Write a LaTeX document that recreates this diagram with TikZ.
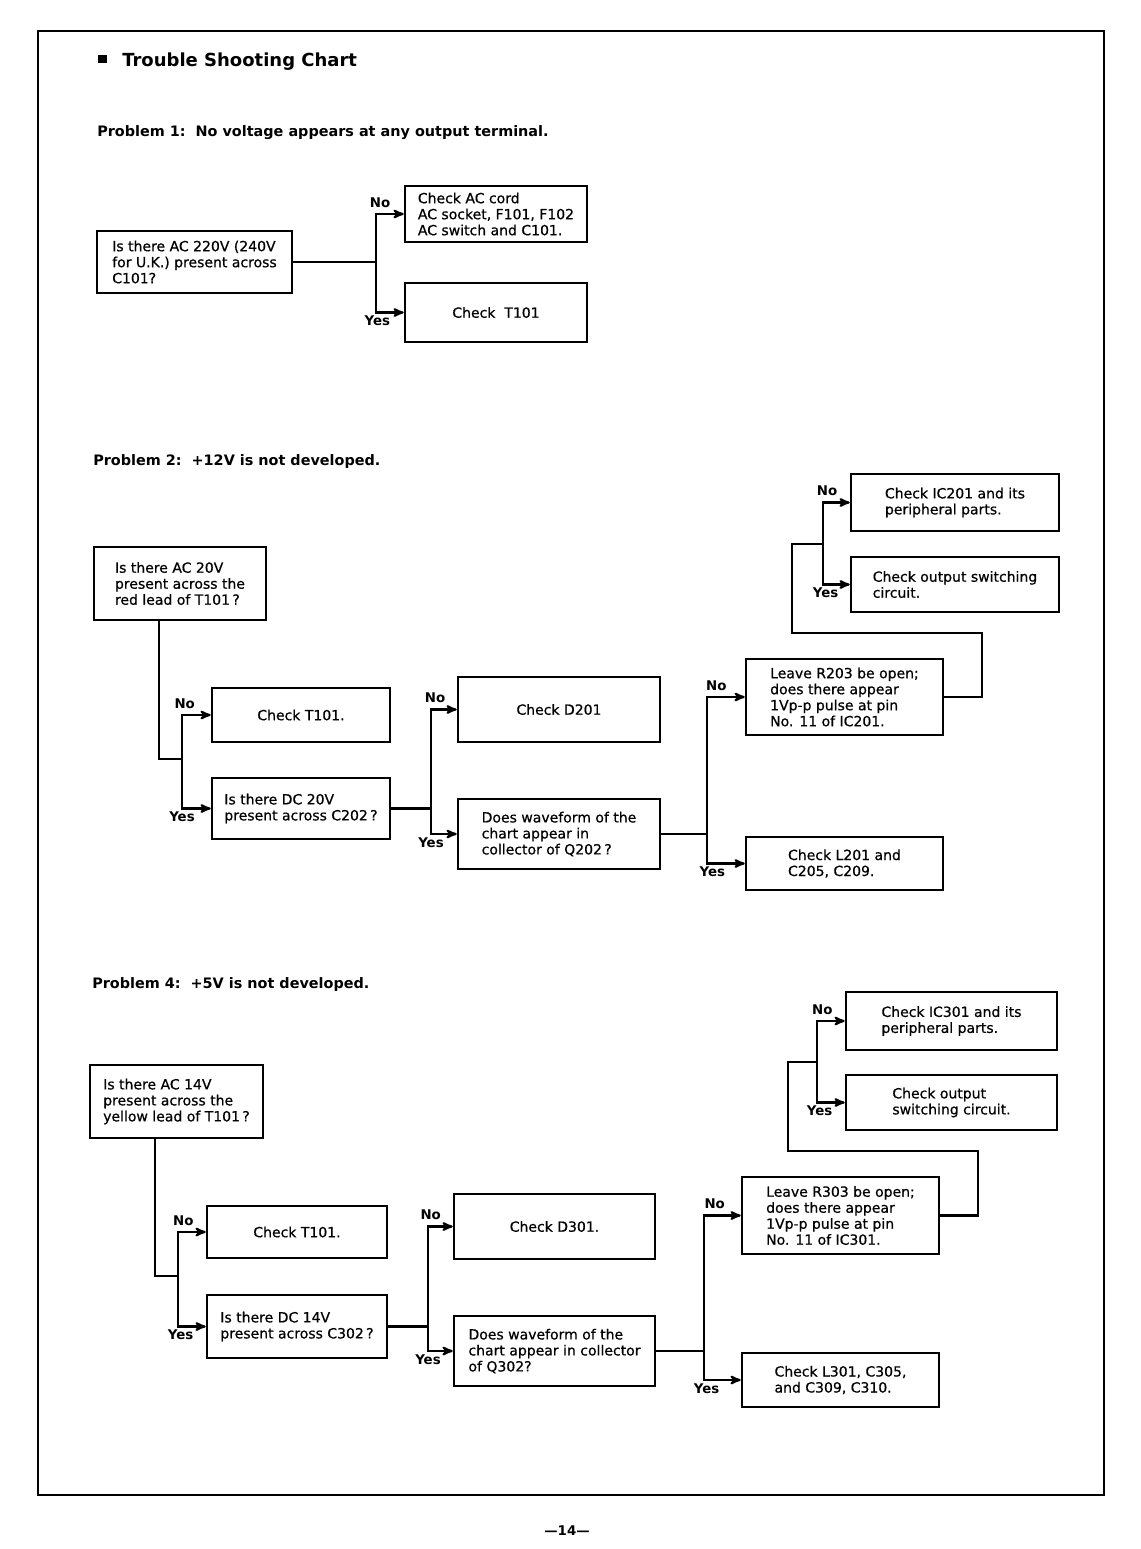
\documentclass[tikz,border=0pt]{standalone}
\usepackage{fontspec}
\setmainfont{DejaVu Sans}
\newfontfamily\boxfont{DejaVu Sans}[FakeBold=0.6]
\usetikzlibrary{arrows,positioning}
\tikzstyle{box}=[rectangle,draw=black,line width=1.9pt,align=left,inner sep=2pt,
                 font=\boxfont\fontsize{10.5}{12}\selectfont]
\tikzstyle{lab}=[font=\bfseries\fontsize{10}{11}\selectfont,inner sep=1pt]
\tikzstyle{head}=[anchor=base west,inner sep=0pt,font=\bfseries\fontsize{10.8}{13}\selectfont]
\tikzstyle{line}=[black,line width=1.6pt]
\tikzstyle{arrow}=[->,black,line width=1.6pt]

\begin{document}
\begin{tikzpicture}[x=0.75pt,y=-0.75pt,>=stealth']
	\useasboundingbox (0,0) rectangle (1140,1549);
	\draw[line width=1.5pt] (38,31) rectangle (1104,1495);

	% headings
	\node[fill=black,minimum size=6.5pt,inner sep=0pt] (bul) at (102.5,59) {};
	\node[head,font=\bfseries\fontsize{13.5}{15}\selectfont] (title) at (122,66) {Trouble Shooting Chart};
	\node[head] (p1) at (97,136) {Problem 1:\ \ No voltage appears at any output terminal.};
	\node[head] (p2) at (93,465) {Problem 2:\ \ +12V is not developed.};
	\node[head] (p4) at (92,988) {Problem 4:\ \ +5V is not developed.};
	\node[inner sep=0pt,anchor=base,font=\bfseries\fontsize{10}{11}\selectfont] (page) at (567,1535) {—14—};

	% problem 1
	\node[box,minimum width=146.25pt,minimum height=46.5pt] (q1) at (194.5,262) {Is there AC 220V (240V\\for U.K.) present across\\C101?};
	\node[box,minimum width=136.5pt,minimum height=42pt] (no1) at (496,214) {Check AC cord\\AC socket, F101, F102\\AC switch and C101.};
	\node[box,minimum width=136.5pt,minimum height=44.25pt] (yes1) at (496,312.5) {Check~~T101};
	\coordinate (j1) at (376,262);
	\draw[line] (q1.east) -- (j1);
	\draw[arrow] (j1) |- node[lab,above=3pt,xshift=3pt] (n1) {No} (no1.west);
	\draw[arrow] (j1) |- node[lab,below=1pt,xshift=1pt] (y1) {Yes} (yes1.west);

	% problem 2
	\node[box,minimum width=129pt,minimum height=54.75pt] (q2) at (180,583.5) {Is there AC 20V\\present across the\\red lead of T101\,?};
	\node[box,minimum width=133.5pt,minimum height=40.5pt] (t2) at (301,715) {Check T101.};
	\node[box,minimum width=133.5pt,minimum height=45.75pt] (dc2) at (301,808.5) {Is there DC 20V\\present across C202\,?};
	\node[box,minimum width=151.5pt,minimum height=48.75pt] (d2) at (559,709.5) {Check D201};
	\node[box,minimum width=151.5pt,minimum height=52.5pt] (wf2) at (559,834) {Does waveform of the\\chart appear in\\collector of Q202\,?};
	\node[box,minimum width=147.75pt,minimum height=57pt] (lv2) at (844.5,697) {Leave R203 be open;\\does there appear\\1Vp-p pulse at pin\\No. 11 of IC201.};
	\node[box,minimum width=147.75pt,minimum height=39.75pt] (l2) at (844.5,863.5) {Check L201 and\\C205, C209.};
	\node[box,minimum width=156pt,minimum height=42.75pt] (ic2) at (955,502.5) {Check IC201 and its\\peripheral parts.};
	\node[box,minimum width=156pt,minimum height=41.25pt] (os2) at (955,584.5) {Check output switching\\circuit.};
	\coordinate (j2a) at (159,759);
	\coordinate (j2) at (182,759);
	\coordinate (j3) at (431,808.5);
	\coordinate (j4) at (707,834);
	\coordinate (j5) at (823,544);
	\draw[line] (q2.south -| j2a) -- (j2a) -- (j2);
	\draw[arrow] (j2) |- node[lab,above=3pt,xshift=2pt] (n2a) {No} (t2.west);
	\draw[arrow] (j2) |- node[lab,below=1pt] (y2a) {Yes} (dc2.west);
	\draw[line] (dc2.east) -- (j3);
	\draw[arrow] (j3) |- node[lab,above=3pt,xshift=3pt] (n2b) {No} (d2.west);
	\draw[arrow] (j3) |- node[lab,below=1pt] (y2b) {Yes} (wf2.west);
	\draw[line] (wf2.east) -- (j4);
	\draw[arrow] (j4) |- node[lab,above=3pt,xshift=7pt] (n2c) {No} (lv2.west);
	\draw[arrow] (j4) |- node[lab,below=1pt,xshift=4pt] (y2c) {Yes} (l2.west);
	\draw[line] (lv2.east) -| (982,633) -| (792,544) -- (j5);
	\draw[arrow] (j5) |- node[lab,above=3pt,xshift=3pt] (n2d) {No} (ic2.west);
	\draw[arrow] (j5) |- node[lab,below=1pt,xshift=2pt] (y2d) {Yes} (os2.west);

	% problem 4
	\node[box,minimum width=129.75pt,minimum height=54.75pt] (q4) at (176.5,1101.5) {Is there AC 14V\\present across the\\yellow lead of T101\,?};
	\node[box,minimum width=135pt,minimum height=39pt] (t4) at (297,1232) {Check T101.};
	\node[box,minimum width=135pt,minimum height=47.25pt] (dc4) at (297,1326.5) {Is there DC 14V\\present across C302\,?};
	\node[box,minimum width=150.75pt,minimum height=48.75pt] (d4) at (554.5,1226.5) {Check D301.};
	\node[box,minimum width=150.75pt,minimum height=52.5pt] (wf4) at (554.5,1351) {Does waveform of the\\chart appear in collector\\of Q302?};
	\node[box,minimum width=147.75pt,minimum height=57.75pt] (lv4) at (840.5,1215.5) {Leave R303 be open;\\does there appear\\1Vp-p pulse at pin\\No. 11 of IC301.};
	\node[box,minimum width=147.75pt,minimum height=40.5pt] (l4) at (840.5,1380) {Check L301, C305,\\and C309, C310.};
	\node[box,minimum width=158.25pt,minimum height=43.5pt] (ic4) at (951.5,1021) {Check IC301 and its\\peripheral parts.};
	\node[box,minimum width=158.25pt,minimum height=41.25pt] (os4) at (951.5,1102.5) {Check output\\switching circuit.};
	\coordinate (j6a) at (155,1276);
	\coordinate (j6) at (178,1276);
	\coordinate (j7) at (428,1326.5);
	\coordinate (j8) at (704,1351);
	\coordinate (j9) at (817,1062);
	\draw[line] (q4.south -| j6a) -- (j6a) -- (j6);
	\draw[arrow] (j6) |- node[lab,above=3pt,xshift=4pt] (n4a) {No} (t4.west);
	\draw[arrow] (j6) |- node[lab,below=1pt,xshift=2pt] (y4a) {Yes} (dc4.west);
	\draw[line] (dc4.east) -- (j7);
	\draw[arrow] (j7) |- node[lab,above=3pt,xshift=2pt] (n4b) {No} (d4.west);
	\draw[arrow] (j7) |- node[lab,below=1pt] (y4b) {Yes} (wf4.west);
	\draw[line] (wf4.east) -- (j8);
	\draw[arrow] (j8) |- node[lab,above=3pt,xshift=8pt] (n4c) {No} (lv4.west);
	\draw[arrow] (j8) |- node[lab,below=1pt,xshift=2pt] (y4c) {Yes} (l4.west);
	\draw[line] (lv4.east) -| (978,1151) -| (788,1062) -- (j9);
	\draw[arrow] (j9) |- node[lab,above=3pt,xshift=4pt] (n4d) {No} (ic4.west);
	\draw[arrow] (j9) |- node[lab,below=1pt,xshift=2pt] (y4d) {Yes} (os4.west);
\end{tikzpicture}
\end{document}
